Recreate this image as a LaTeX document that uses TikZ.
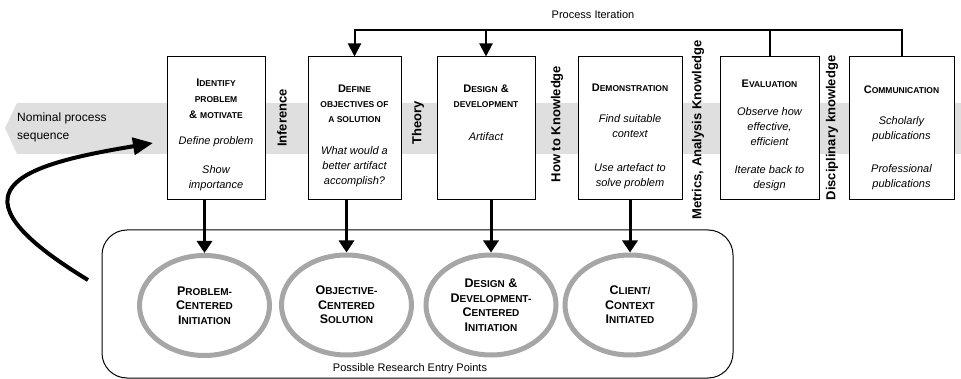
\documentclass[tikz,border=0pt]{standalone}
\usepackage{fontspec}
\setmainfont{Liberation Sans}
\usetikzlibrary{positioning,shapes.geometric,arrows.meta}
\definecolor{bandgray}{RGB}{223,223,223}
\definecolor{ringgray}{RGB}{166,166,166}
\newcommand{\sm}[1]{{\fontsize{8.5}{15}\selectfont #1}}
\newcommand{\smb}[1]{{\fontsize{10}{14.5}\selectfont #1}}
\newcommand{\tl}[1]{{\bfseries #1}}
\newcommand{\il}[1]{{\itshape #1}}
\begin{document}
\begin{tikzpicture}[x=1pt,y=-1pt,
        procbox/.style={draw, line width=1pt, minimum height=143pt, inner sep=0pt},
        boxtxt/.style={align=center, inner sep=0pt, font=\fontsize{11}{15}\selectfont},
        entry/.style={ellipse, draw=ringgray, line width=5pt, minimum width=130pt, minimum height=100pt,
            align=center, inner sep=0pt, font=\bfseries\fontsize{12.5}{14.5}\selectfont},
        knowl/.style={rotate=90, inner sep=0pt, font=\bfseries\fontsize{13}{15}\selectfont},
        iter/.style={line width=2pt},
        dnarrow/.style={line width=3pt, -{Triangle[length=12pt,width=15pt]}}]
    \useasboundingbox (0,0) rectangle (961,379);

    % Nominal sequence band
    \fill[bandgray] (5,128) -- (17,103) -- (961,103) -- (961,154) -- (17,154) -- cycle;
    \node[anchor=west, align=left, inner sep=0pt, font=\fontsize{12}{18}\selectfont] (nominal) at (17,127)
        {Nominal process\\sequence};

    % --- PROCESS BOXES ---
    \node[procbox, fill=white, minimum width=98pt] (b1) at (216,128.5) {};
    \node[procbox, fill=white, minimum width=93pt] (b2) at (354.5,128.5) {};
    \node[procbox, fill=white, minimum width=98pt] (b3) at (486,128.5) {};
    \node[procbox, fill=white, minimum width=104pt] (b4) at (630,128.5) {};
    \node[procbox, fill=white, minimum width=99pt] (b5) at (769.5,128.5) {};
    \node[procbox, fill=white, minimum width=105pt] (b6) at (901.5,128.5) {};

    \node[boxtxt, below=22pt of b1.north] (t1) {\tl{I\sm{DENTIFY}}\\[1pt] \tl{\sm{PROBLEM}}\\[1pt] \tl{\& \sm{MOTIVATE}}\\[11pt]
        \il{Define problem}\\[14pt] \il{Show}\\ \il{importance}};
    \node[boxtxt, below=28pt of b2.north] (t2) {\tl{D\sm{EFINE}}\\ \tl{\sm{OBJECTIVES OF}}\\ \tl{\sm{A SOLUTION}}\\[17pt]
        \il{What would a}\\ \il{better artifact}\\ \il{accomplish?}};
    \node[boxtxt, below=28pt of b3.north] (t3) {\tl{D\sm{ESIGN} \&}\\ \tl{\sm{DEVELOPMENT}}\\[18pt]
        \il{Artifact}};
    \node[boxtxt, below=27pt of b4.north] (t4) {\tl{D\sm{EMONSTRATION}}\\[16pt]
        \il{Find suitable}\\ \il{context}\\[19pt] \il{Use artefact to}\\ \il{solve problem}};
    \node[boxtxt, below=23pt of b5.north] (t5) {\tl{E\sm{VALUATION}}\\[13pt]
        \il{Observe how}\\ \il{effective,}\\ \il{efficient}\\[13pt] \il{Iterate back to}\\ \il{design}};
    \node[boxtxt, below=29pt of b6.north] (t6) {\tl{C\sm{OMMUNICATION}}\\[16pt]
        \il{Scholarly}\\ \il{publications}\\[18pt] \il{Professional}\\ \il{publications}};

    % --- KNOWLEDGE LABELS ---
    \node[knowl] (kinf) at (282,118) {Inference};
    \node[knowl] (kthe) at (418,123) {Theory};
    \node[knowl] (khow) at (557,124) {How to Knowledge};
    \node[knowl] (kmet) at (698,130) {Metrics, Analysis Knowledge};
    \node[knowl] (kdis) at (832,128) {Disciplinary knowledge};

    % --- PROCESS ITERATION ---
    \coordinate (itop) at (0,30);
    \node[font=\fontsize{11}{13}\selectfont] (piter) at (593,15) {Process Iteration};
    \draw[iter, -{Triangle[length=13pt,width=13pt]}] (b6.north) |- (b2.north |- itop) -- (b2.north);
    \draw[iter] (b5.north) -- (b5.north |- itop);
    \draw[iter, -{Triangle[length=13pt,width=13pt]}] (b3.north |- itop) -- (b3.north);

    % --- ENTRY POINTS ---
    \draw[line width=1pt, rounded corners=25pt] (102,230) rectangle (733,378);
    \node[font=\fontsize{11}{13}\selectfont] (eptxt) at (410,369) {Possible Research Entry Points};

    \node[entry] (e1) at (204.5,305.5) {P\smb{ROBLEM-}\\ C\smb{ENTERED}\\ I\smb{NITIATION}};
    \node[entry] (e2) at (346.5,305) {O\smb{BJECTIVE-}\\ C\smb{ENTERED}\\ S\smb{OLUTION}};
    \node[entry] (e3) at (491,305) {D\smb{ESIGN} \&\\ D\smb{EVELOPMENT-}\\ C\smb{ENTERED}\\ I\smb{NITIATION}};
    \node[entry] (e4) at (630,305) {C\smb{LIENT/}\\ C\smb{ONTEXT}\\ I\smb{NITIATED}};

    \draw[dnarrow] (b1.south -| e1.north) -- (e1.north);
    \draw[dnarrow] (b2.south -| e2.north) -- (e2.north);
    \draw[dnarrow] (b3.south -| e3.north) -- (e3.north);
    \draw[dnarrow] (b4.south -| e4.north) -- (e4.north);

    % Curved arrow back into the sequence
    \coordinate (cstart) at (88,280);
    \coordinate (ctip) at (153,143);
    \draw[line width=4pt, -{Triangle[length=20pt,width=17pt]}] (cstart) .. controls (-60,190) and (20,165) .. (ctip);
\end{tikzpicture}
\end{document}
